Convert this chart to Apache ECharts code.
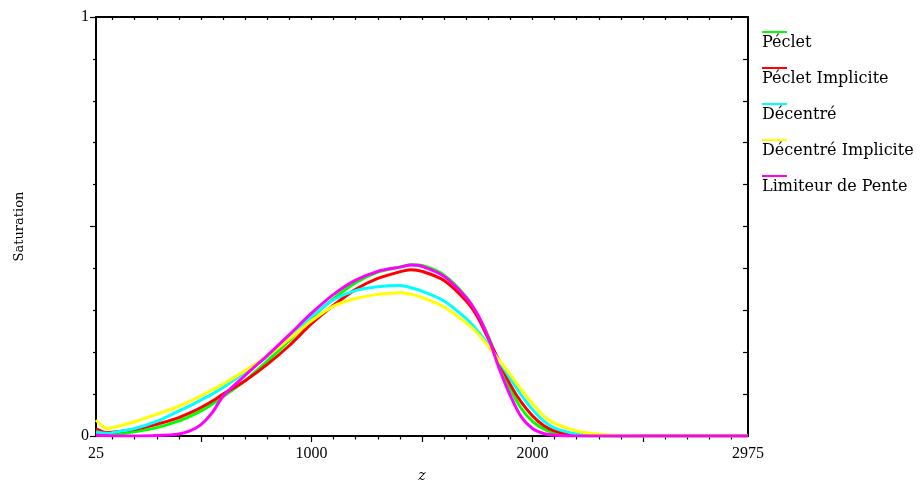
<!DOCTYPE html>
<html>
<head>
<meta charset="utf-8">
<script src="https://cdn.jsdelivr.net/npm/echarts@6/dist/echarts.min.js"></script>
<style>html,body{margin:0;padding:0;background:#fff}#c{width:921px;height:488px}</style>
</head>
<body>
<div id="c"></div>
<script>
// ---- data ----
const zValues =          [25,    75,    100,   200,   300,   400,   450,   500,   550,   600,   700,   800,   900,   1000,  1100,  1200,  1300,  1400,  1450,  1500,  1600,  1700,  1750,  1800,  1850,  1900,  1950,  2000,  2050,  2100,  2200,  2300,  2400,  2500, 2700, 2975];
const seriesNames = ['Péclet', 'Péclet Implicite', 'Décentré', 'Décentré Implicite', 'Limiteur de Pente'];
const peclet =           [0.005, 0.002, 0.003, 0.010, 0.020, 0.036, 0.047, 0.060, 0.076, 0.094, 0.132, 0.179, 0.228, 0.282, 0.328, 0.366, 0.391, 0.403, 0.409, 0.407, 0.384, 0.332, 0.290, 0.238, 0.170, 0.112, 0.065, 0.035, 0.017, 0.007, 0.001, 0,     0,     0,    0,    0];
const pecletImplicite =  [0.017, 0.008, 0.009, 0.016, 0.028, 0.044, 0.055, 0.068, 0.083, 0.100, 0.132, 0.171, 0.216, 0.268, 0.312, 0.350, 0.376, 0.392, 0.397, 0.393, 0.371, 0.322, 0.285, 0.232, 0.178, 0.122, 0.080, 0.048, 0.025, 0.012, 0.003, 0.001, 0,     0,    0,    0];
const decentre =         [0.010, 0.006, 0.008, 0.018, 0.035, 0.060, 0.072, 0.086, 0.100, 0.116, 0.152, 0.190, 0.240, 0.285, 0.325, 0.347, 0.356, 0.359, 0.354, 0.346, 0.322, 0.280, 0.252, 0.218, 0.178, 0.136, 0.097, 0.063, 0.036, 0.019, 0.005, 0.001, 0,     0,    0,    0];
const decentreImplicite= [0.038, 0.018, 0.020, 0.034, 0.052, 0.071, 0.083, 0.096, 0.110, 0.124, 0.156, 0.191, 0.232, 0.275, 0.310, 0.328, 0.338, 0.342, 0.338, 0.331, 0.308, 0.270, 0.246, 0.214, 0.180, 0.146, 0.110, 0.077, 0.048, 0.030, 0.012, 0.004, 0.001, 0,    0,    0];
const limiteur =         [0.002, 0.001, 0,     0,     0.001, 0.005, 0.012, 0.027, 0.055, 0.095, 0.145, 0.192, 0.242, 0.293, 0.338, 0.372, 0.393, 0.403, 0.408, 0.405, 0.381, 0.330, 0.292, 0.235, 0.160, 0.096, 0.045, 0.018, 0.006, 0.002, 0,     0,     0,     0,    0,    0];
const seriesColors = ['#00ff00', '#ff0000', '#00ffff', '#ffff00', '#ff00ff'];

// ticks / labels
const xLabelValues = [25, 1000, 2000, 2975];
const xMajorTicks = [500, 1000, 1500, 2000, 2500];
const xMinorTicks = [100,200,300,400,600,700,800,900,1100,1200,1300,1400,1600,1700,1800,1900,2100,2200,2300,2400,2600,2700,2800,2900];
const xAllTicks = [100,200,300,400,500,600,700,800,900,1000,1100,1200,1300,1400,1500,1600,1700,1800,1900,2000,2100,2200,2300,2400,2500,2600,2700,2800,2900];
const yLabelValues = [0, 1];
const yMajorTicks = [0, 0.5, 1];
const yMinorTicks = [0.1, 0.2, 0.3, 0.4, 0.6, 0.7, 0.8, 0.9];
const yAllTicks = [0.1, 0.2, 0.3, 0.4, 0.5, 0.6, 0.7, 0.8, 0.9];
const xMin = 25, xMax = 2975, yMin = 0, yMax = 1;

const allSeries = [peclet, pecletImplicite, decentre, decentreImplicite, limiteur];

const chart = echarts.init(document.getElementById('c'));
const lineStyleAxis = {color: '#000', width: 2};
const tickFont = {fontFamily: 'Liberation Serif', fontSize: 16, color: '#000'};

const xBase = {type: 'value', min: xMin, max: xMax, splitLine: {show: false}};
const yBase = {type: 'value', min: yMin, max: yMax, splitLine: {show: false}};

chart.setOption({
  animation: false,
  backgroundColor: '#fff',
  grid: {left: 96, right: 173, top: 17, bottom: 51, containLabel: false},
  legend: {
    orient: 'vertical', left: 762, top: 10, padding: 0,
    itemWidth: 25, itemHeight: 2, itemGap: -8,
    icon: 'rect',
    data: seriesNames,
    formatter: name => '\n' + name,
    textStyle: {fontFamily: 'DejaVu Serif', fontSize: 16, color: '#000', lineHeight: 22, padding: [0, 0, 0, -30]}
  },
  xAxis: [
    Object.assign({}, xBase, {
      position: 'bottom',
      name: 'z', nameLocation: 'middle', nameGap: 33,
      nameTextStyle: {fontFamily: 'DejaVu Serif', fontStyle: 'italic', fontSize: 14, color: '#000'},
      axisLine: {show: true, onZero: false, lineStyle: lineStyleAxis},
      axisTick: {show: true, inside: false, length: 6, customValues: xMajorTicks, lineStyle: {color: '#000', width: 1.2}},
      axisLabel: Object.assign({show: true, margin: 10, customValues: xLabelValues, formatter: v => String(v)}, tickFont)
    }),
    Object.assign({}, xBase, {
      position: 'bottom',
      axisLine: {show: false, onZero: false},
      axisTick: {show: true, inside: false, length: 3.5, customValues: xMinorTicks, lineStyle: {color: '#000', width: 1.2}},
      axisLabel: {show: false}
    }),
    Object.assign({}, xBase, {
      position: 'top',
      axisLine: {show: true, onZero: false, lineStyle: lineStyleAxis},
      axisTick: {show: true, inside: true, length: 3, customValues: xAllTicks, lineStyle: {color: '#000', width: 1.2}},
      axisLabel: {show: false}
    })
  ],
  yAxis: [
    Object.assign({}, yBase, {
      position: 'left',
      name: 'Saturation', nameLocation: 'middle', nameGap: 70,
      nameTextStyle: {fontFamily: 'DejaVu Serif', fontSize: 13, color: '#000'},
      axisLine: {show: true, onZero: false, lineStyle: lineStyleAxis},
      axisTick: {show: true, inside: false, length: 6, customValues: yMajorTicks, lineStyle: {color: '#000', width: 1.2}},
      axisLabel: Object.assign({show: true, margin: 7, customValues: yLabelValues, formatter: v => String(v)}, tickFont)
    }),
    Object.assign({}, yBase, {
      position: 'left',
      axisLine: {show: false, onZero: false},
      axisTick: {show: true, inside: false, length: 3, customValues: yMinorTicks, lineStyle: {color: '#000', width: 1.2}},
      axisLabel: {show: false}
    }),
    Object.assign({}, yBase, {
      position: 'right',
      axisLine: {show: true, onZero: false, lineStyle: lineStyleAxis},
      axisTick: {show: true, inside: true, length: 5, customValues: yAllTicks, lineStyle: {color: '#000', width: 1.2}},
      axisLabel: {show: false}
    })
  ],
  series: seriesNames.map((name, i) => ({
    name: name,
    type: 'line',
    xAxisIndex: 0,
    yAxisIndex: 0,
    showSymbol: false,
    symbol: 'none',
    smooth: 0.3,
    color: seriesColors[i],
    lineStyle: {color: seriesColors[i], width: 3},
    data: zValues.map((z, k) => [z, allSeries[i][k]])
  }))
});
</script>
</body>
</html>
